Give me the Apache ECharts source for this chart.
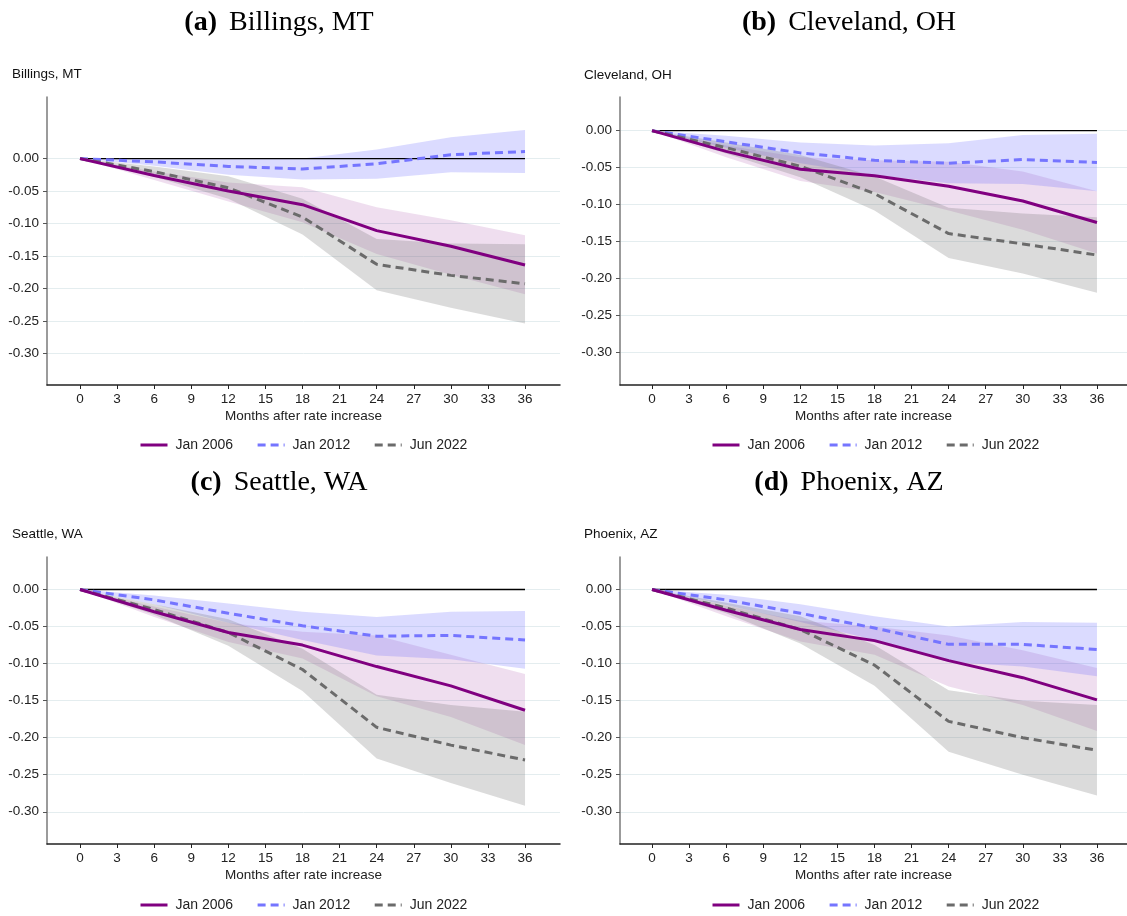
<!DOCTYPE html>
<html>
<head>
<meta charset="utf-8">
<script src="https://cdn.jsdelivr.net/npm/echarts@6/dist/echarts.min.js"></script>
<style>
html,body{margin:0;padding:0;background:#fff;}
#chart{width:1127px;height:916px;}
</style>
</head>
<body>
<div id="chart"></div>
<script>
// ---------- data ----------
const months = [0, 6, 12, 18, 24, 30, 36];
const xTickValues = [0, 3, 6, 9, 12, 15, 18, 21, 24, 27, 30, 33, 36];
const yTickValues = [0, -0.05, -0.10, -0.15, -0.20, -0.25, -0.30];
const seriesNames = ['Jan 2006', 'Jan 2012', 'Jun 2022'];
const panelTitles = ['(a)', '(b)', '(c)', '(d)'];
const cityNames = ['Billings, MT', 'Cleveland, OH', 'Seattle, WA', 'Phoenix, AZ'];

// Billings, MT
const billingsJan2006   = [0, -0.026, -0.050, -0.071, -0.111, -0.135, -0.164];
const billingsJan2006Lo = [0, -0.033, -0.066, -0.098, -0.147, -0.179, -0.209];
const billingsJan2006Hi = [0, -0.020, -0.037, -0.044, -0.075, -0.095, -0.118];
const billingsJan2012   = [0, -0.005, -0.012, -0.016, -0.008, 0.006, 0.011];
const billingsJan2012Lo = [0, -0.011, -0.025, -0.032, -0.031, -0.021, -0.022];
const billingsJan2012Hi = [0, 0.000, 0.001, 0.000, 0.014, 0.033, 0.044];
const billingsJun2022   = [0, -0.020, -0.045, -0.090, -0.163, -0.180, -0.193];
const billingsJun2022Lo = [0, -0.028, -0.062, -0.117, -0.203, -0.230, -0.254];
const billingsJun2022Hi = [0, -0.012, -0.027, -0.062, -0.124, -0.131, -0.132];

// Cleveland, OH
const clevelandJan2006   = [0, -0.028, -0.052, -0.061, -0.075, -0.095, -0.124];
const clevelandJan2006Lo = [0, -0.036, -0.068, -0.083, -0.108, -0.134, -0.166];
const clevelandJan2006Hi = [0, -0.020, -0.036, -0.040, -0.042, -0.055, -0.082];
const clevelandJan2012   = [0, -0.015, -0.030, -0.040, -0.044, -0.039, -0.043];
const clevelandJan2012Lo = [0, -0.023, -0.044, -0.060, -0.071, -0.072, -0.082];
const clevelandJan2012Hi = [0, -0.007, -0.016, -0.020, -0.017, -0.006, -0.004];
const clevelandJun2022   = [0, -0.023, -0.048, -0.085, -0.139, -0.153, -0.168];
const clevelandJun2022Lo = [0, -0.031, -0.063, -0.108, -0.172, -0.193, -0.219];
const clevelandJun2022Hi = [0, -0.016, -0.033, -0.062, -0.104, -0.112, -0.117];

// Seattle, WA
const seattleJan2006   = [0, -0.030, -0.058, -0.075, -0.104, -0.130, -0.163];
const seattleJan2006Lo = [0, -0.037, -0.071, -0.093, -0.144, -0.172, -0.210];
const seattleJan2006Hi = [0, -0.023, -0.045, -0.057, -0.062, -0.088, -0.114];
const seattleJan2012   = [0, -0.014, -0.032, -0.049, -0.063, -0.062, -0.068];
const seattleJan2012Lo = [0, -0.020, -0.045, -0.068, -0.089, -0.094, -0.107];
const seattleJan2012Hi = [0, -0.008, -0.019, -0.030, -0.037, -0.030, -0.029];
const seattleJun2022   = [0, -0.027, -0.058, -0.108, -0.186, -0.210, -0.230];
const seattleJun2022Lo = [0, -0.034, -0.076, -0.137, -0.228, -0.261, -0.292];
const seattleJun2022Hi = [0, -0.020, -0.040, -0.080, -0.142, -0.156, -0.165];

// Phoenix, AZ
const phoenixJan2006   = [0, -0.028, -0.054, -0.069, -0.096, -0.119, -0.149];
const phoenixJan2006Lo = [0, -0.036, -0.070, -0.088, -0.131, -0.156, -0.191];
const phoenixJan2006Hi = [0, -0.022, -0.042, -0.050, -0.062, -0.082, -0.106];
const phoenixJan2012   = [0, -0.014, -0.032, -0.052, -0.074, -0.074, -0.081];
const phoenixJan2012Lo = [0, -0.021, -0.044, -0.068, -0.098, -0.104, -0.117];
const phoenixJan2012Hi = [0, -0.007, -0.020, -0.036, -0.050, -0.044, -0.045];
const phoenixJun2022   = [0, -0.025, -0.054, -0.102, -0.178, -0.200, -0.217];
const phoenixJun2022Lo = [0, -0.032, -0.073, -0.130, -0.219, -0.250, -0.278];
const phoenixJun2022Hi = [0, -0.018, -0.036, -0.075, -0.136, -0.150, -0.156];

// ---------- assembly ----------
const panels = [
  { est: [billingsJan2006, billingsJan2012, billingsJun2022],
    lo:  [billingsJan2006Lo, billingsJan2012Lo, billingsJun2022Lo],
    hi:  [billingsJan2006Hi, billingsJan2012Hi, billingsJun2022Hi] },
  { est: [clevelandJan2006, clevelandJan2012, clevelandJun2022],
    lo:  [clevelandJan2006Lo, clevelandJan2012Lo, clevelandJun2022Lo],
    hi:  [clevelandJan2006Hi, clevelandJan2012Hi, clevelandJun2022Hi] },
  { est: [seattleJan2006, seattleJan2012, seattleJun2022],
    lo:  [seattleJan2006Lo, seattleJan2012Lo, seattleJun2022Lo],
    hi:  [seattleJan2006Hi, seattleJan2012Hi, seattleJun2022Hi] },
  { est: [phoenixJan2006, phoenixJan2012, phoenixJun2022],
    lo:  [phoenixJan2006Lo, phoenixJan2012Lo, phoenixJun2022Lo],
    hi:  [phoenixJan2006Hi, phoenixJan2012Hi, phoenixJun2022Hi] }
];

// layout (pixels)
const layout = [
  { left: 47,  top: 97,  width: 513, height: 288, xmin: -2.67, xmax: 38.83, ymin: -0.349, ymax: 0.095,
    titleX: 279, titleY: 9, subX: 12, subY: 67, legX: 134, legY: 433 },
  { left: 620, top: 97,  width: 507, height: 288, xmin: -2.59, xmax: 38.43, ymin: -0.3436, ymax: 0.0455,
    titleX: 849, titleY: 9, subX: 584, subY: 68, legX: 706, legY: 433 },
  { left: 47,  top: 557, width: 513, height: 287, xmin: -2.67, xmax: 38.83, ymin: -0.3435, ymax: 0.0439,
    titleX: 279, titleY: 469, subX: 12, subY: 527, legX: 134, legY: 893 },
  { left: 620, top: 557, width: 507, height: 287, xmin: -2.59, xmax: 38.43, ymin: -0.3435, ymax: 0.0439,
    titleX: 849, titleY: 469, subX: 584, subY: 527, legX: 706, legY: 893 }
];

const lineColors = ['#800080', '#7575ff', '#6b6b6b'];
const lineTypes = ['solid', [8, 5], [8, 5]];
const bandColors = ['rgba(128,0,128,0.13)', 'rgba(100,100,255,0.23)', 'rgba(110,110,110,0.25)'];
const sans = 'Liberation Sans, Arial, sans-serif';
const serif = 'Liberation Serif, Times New Roman, serif';

const grids = [], xAxes = [], yAxes = [], series = [], titles = [], legends = [];

function bandRenderer(xs, lo, hi, color) {
  return function (params, api) {
    if (params.dataIndex !== 0) return null;
    const pts = [];
    for (let i = 0; i < xs.length; i++) pts.push(api.coord([xs[i], hi[i]]));
    for (let i = xs.length - 1; i >= 0; i--) pts.push(api.coord([xs[i], lo[i]]));
    return { type: 'polygon', shape: { points: pts }, style: { fill: color, stroke: null } };
  };
}

panels.forEach((p, g) => {
  const L = layout[g];
  grids.push({ left: L.left, top: L.top, width: L.width, height: L.height, containLabel: false });
  xAxes.push({
    type: 'value', gridIndex: g, min: L.xmin, max: L.xmax,
    name: 'Months after rate increase', nameLocation: 'middle', nameGap: 24,
    nameTextStyle: { fontFamily: sans, fontSize: 13.5, color: '#222' },
    axisLine: { show: true, onZero: false, lineStyle: { color: '#222', width: 1.5 } },
    axisTick: { show: true, length: 4, customValues: xTickValues, lineStyle: { color: '#222' } },
    axisLabel: { customValues: xTickValues, margin: 7, fontFamily: sans, fontSize: 13.5, color: '#222' },
    splitLine: { show: false }
  });
  yAxes.push({
    type: 'value', gridIndex: g, min: L.ymin, max: L.ymax,
    axisLine: { show: true, onZero: false, lineStyle: { color: '#7a7a7a', width: 1.5 } },
    axisTick: { show: true, length: 4, customValues: yTickValues, lineStyle: { color: '#555' } },
    axisLabel: { customValues: yTickValues, margin: 8, fontFamily: sans, fontSize: 13.5, color: '#222',
      formatter: v => (Math.abs(v) < 1e-9 ? '0.00' : v.toFixed(2)) },
    splitLine: { show: false }
  });

  // gridlines at tick values
  series.push({
    type: 'line', name: 'grid-' + g, xAxisIndex: g, yAxisIndex: g, data: [], silent: true, z: 0,
    markLine: {
      silent: true, symbol: 'none', animation: false, z: 0,
      label: { show: false },
      emphasis: { disabled: true },
      lineStyle: { color: '#e4edef', width: 1, type: 'solid' },
      data: yTickValues.map(v => ({ yAxis: v }))
    }
  });

  // confidence bands
  for (let k = 0; k < 3; k++) {
    series.push({
      type: 'custom', name: 'band-' + g + k, xAxisIndex: g, yAxisIndex: g, silent: true, z: 1,
      data: months.map((m, i) => [m, p.lo[k][i], p.hi[k][i]]),
      encode: { x: 0, y: [1, 2] },
      renderItem: bandRenderer(months, p.lo[k], p.hi[k], bandColors[k])
    });
  }

  // zero reference line
  series.push({
    type: 'line', name: 'zero-' + g, xAxisIndex: g, yAxisIndex: g, symbol: 'none', silent: true, z: 2,
    lineStyle: { color: '#000', width: 1.3 },
    data: months.map(m => [m, 0])
  });

  // estimates
  for (let k = 0; k < 3; k++) {
    series.push({
      type: 'line', name: seriesNames[k], xAxisIndex: g, yAxisIndex: g, symbol: 'none', z: k === 0 ? 5 : 3,
      lineStyle: { color: lineColors[k], width: 3, type: lineTypes[k] },
      itemStyle: { color: lineColors[k] },
      data: months.map((m, i) => [m, p.est[k][i]])
    });
  }

  titles.push({
    text: '{b|' + panelTitles[g] + '}{s| }{n|' + cityNames[g] + '}',
    left: L.titleX, top: L.titleY, textAlign: 'center', padding: 0,
    textStyle: { fontWeight: 'normal', rich: {
      b: { fontFamily: serif, fontSize: 28, fontWeight: 'bold', color: '#000' },
      s: { fontFamily: serif, fontSize: 28, width: 12 },
      n: { fontFamily: serif, fontSize: 28, fontWeight: 'normal', color: '#000' } } }
  });
  titles.push({
    text: cityNames[g], left: L.subX, top: L.subY, padding: 0,
    textStyle: { fontFamily: sans, fontSize: 13.5, fontWeight: 'normal', color: '#111' }
  });
  legends.push({
    data: seriesNames, left: L.legX, top: L.legY, orient: 'horizontal',
    itemWidth: 27, itemHeight: 14, itemGap: 23,
    itemStyle: { opacity: 0 },
    lineStyle: { width: 3 },
    textStyle: { fontFamily: sans, fontSize: 14, color: '#222', padding: [0, 0, 0, 3] },
    selectedMode: false
  });
});

const chart = echarts.init(document.getElementById('chart'), null, { renderer: 'canvas' });
chart.setOption({
  backgroundColor: '#fff',
  animation: false,
  title: titles,
  legend: legends,
  grid: grids,
  xAxis: xAxes,
  yAxis: yAxes,
  series: series
});
</script>
</body>
</html>
